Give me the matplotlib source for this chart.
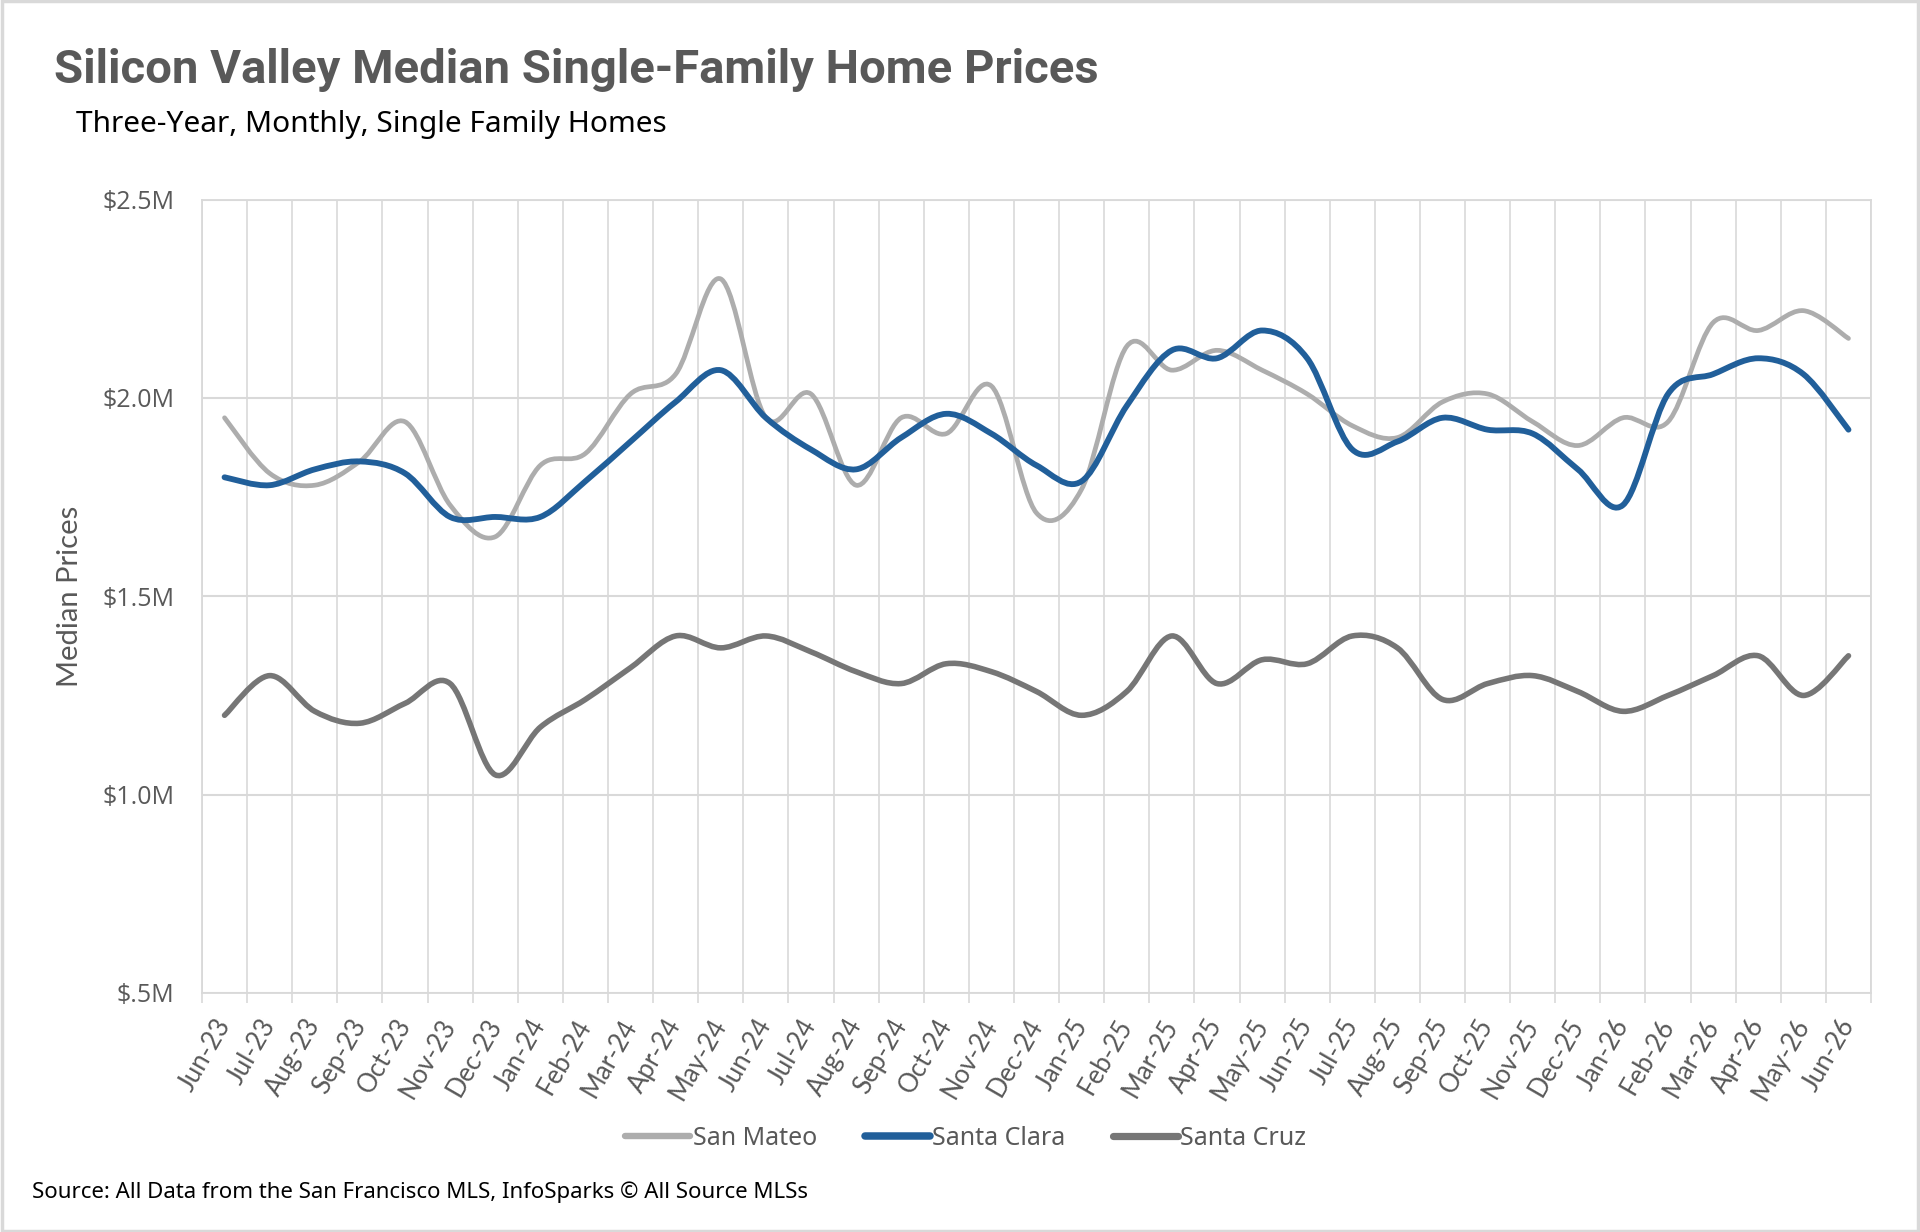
#!/usr/bin/env python3
"""
Silicon Valley median single-family home prices, smoothed monthly lines
"""

import numpy as np
import matplotlib
matplotlib.use("Agg")
import matplotlib.pyplot as plt
from matplotlib.path import Path
from matplotlib.patches import PathPatch, Rectangle
from matplotlib.lines import Line2D

# Data (median prices in $M)
months = ["Jun-23", "Jul-23", "Aug-23", "Sep-23", "Oct-23", "Nov-23", "Dec-23",
          "Jan-24", "Feb-24", "Mar-24", "Apr-24", "May-24", "Jun-24", "Jul-24",
          "Aug-24", "Sep-24", "Oct-24", "Nov-24", "Dec-24", "Jan-25", "Feb-25",
          "Mar-25", "Apr-25", "May-25", "Jun-25", "Jul-25", "Aug-25", "Sep-25",
          "Oct-25", "Nov-25", "Dec-25", "Jan-26", "Feb-26", "Mar-26", "Apr-26",
          "May-26", "Jun-26"]

san_mateo = [1.95, 1.81, 1.78, 1.84, 1.94, 1.73, 1.65, 1.83, 1.86, 2.01, 2.06, 2.30, 1.95,
             2.01, 1.78, 1.95, 1.91, 2.03, 1.71, 1.77, 2.13, 2.07, 2.12, 2.07, 2.01,
             1.93, 1.90, 1.99, 2.01, 1.94, 1.88, 1.95, 1.94, 2.19, 2.17, 2.22, 2.15]
santa_clara = [1.80, 1.78, 1.82, 1.84, 1.81, 1.70, 1.70, 1.70, 1.79, 1.89, 1.99, 2.07, 1.95,
               1.87, 1.82, 1.90, 1.96, 1.91, 1.83, 1.79, 1.98, 2.12, 2.10, 2.17, 2.10,
               1.87, 1.89, 1.95, 1.92, 1.91, 1.82, 1.73, 2.01, 2.06, 2.10, 2.06, 1.92]
santa_cruz = [1.20, 1.30, 1.21, 1.18, 1.23, 1.28, 1.05, 1.17, 1.24, 1.32, 1.40, 1.37, 1.40,
              1.36, 1.31, 1.28, 1.33, 1.31, 1.26, 1.20, 1.26, 1.40, 1.28, 1.34, 1.33,
              1.40, 1.37, 1.24, 1.28, 1.30, 1.26, 1.21, 1.25, 1.30, 1.35, 1.25, 1.35]

series_names = ["San Mateo", "Santa Clara", "Santa Cruz"]
y_ticks = [0.5, 1.0, 1.5, 2.0, 2.5]
y_tick_labels = ["$.5M", "$1.0M", "$1.5M", "$2.0M", "$2.5M"]

GRID = "#D9D9D9"
TEXT_GRAY = "#595959"


def smooth_path(x, y):
    """Excel-style smoothed line: cubic Bezier segments through every point"""
    pts = np.column_stack([x, y]).astype(float)
    n = len(pts)
    verts = [pts[0]]
    codes = [Path.MOVETO]
    for i in range(n - 1):
        p_prev = pts[i - 1] if i > 0 else pts[i]
        p_next2 = pts[i + 2] if i + 2 < n else pts[i + 1]
        c1 = pts[i] + (pts[i + 1] - p_prev) / 6.0
        c2 = pts[i + 1] - (p_next2 - pts[i]) / 6.0
        verts += [c1, c2, pts[i + 1]]
        codes += [Path.CURVE4] * 3
    return Path(verts, codes)


def main():
    fig = plt.figure(figsize=(19.2, 12.32), dpi=100)
    ax = fig.add_axes([0.1052, 0.194, 0.8693, 0.644])

    x = np.arange(len(months))
    series = [san_mateo, santa_clara, santa_cruz]
    colors = ["#ADADAD", "#215F9A", "#767676"]
    widths = [3.4, 4.2, 4.0]

    handles = []
    for vals, col, lw, name in zip(series, colors, widths, series_names):
        patch = PathPatch(smooth_path(x, vals), facecolor="none", edgecolor=col,
                          lw=lw, capstyle="round", joinstyle="round", zorder=3)
        ax.add_patch(patch)
        handles.append(Line2D([], [], color=col, lw=lw + 1.2, solid_capstyle="round", label=name))

    ax.set_xlim(-0.5, len(months) - 0.5)
    ax.set_ylim(0.5, 2.5)

    # gridlines at category boundaries, labels at category centres
    ax.set_xticks(x)
    ax.set_xticklabels(months, rotation=60, ha="right", va="center",
                       rotation_mode="anchor", fontsize=18.5, color=TEXT_GRAY, family="Lato")
    ax.tick_params(axis="x", which="major", length=0, pad=20)
    ax.set_xticks(np.arange(-0.5, len(months)), minor=True)
    ax.tick_params(axis="x", which="minor", length=7, color=GRID, width=1.2)
    ax.grid(True, which="minor", axis="x", color=GRID, lw=1.2)

    ax.set_yticks(y_ticks)
    ax.set_yticklabels(y_tick_labels, fontsize=18, color=TEXT_GRAY, family="Open Sans")
    ax.tick_params(axis="y", length=0, pad=20)
    ax.grid(True, which="major", axis="y", color=GRID, lw=1.5)
    ax.set_axisbelow(True)

    for side in ["left", "right", "top", "bottom"]:
        ax.spines[side].set_color(GRID)
        ax.spines[side].set_linewidth(1.3)

    ax.set_ylabel("Median Prices", fontsize=21, color=TEXT_GRAY, family="Lato", labelpad=14)

    # Titles
    fig.text(0.028, 0.9326, "Silicon Valley Median Single-Family Home Prices",
             fontsize=34, fontweight="bold", color=TEXT_GRAY, family="Roboto", va="baseline")
    fig.text(0.0395, 0.8929, "Three-Year, Monthly, Single Family Homes",
             fontsize=21.5, color="black", family="Noto Sans", va="baseline")

    fig.legend(handles=handles, loc="center", bbox_to_anchor=(0.503, 0.076), ncol=3,
               frameon=False, prop={"family": "Noto Sans", "size": 18},
               labelcolor=TEXT_GRAY, handlelength=2.6, handletextpad=0.1, columnspacing=1.9)

    fig.text(0.0167, 0.0279, "Source: All Data from the San Francisco MLS, InfoSparks \u00a9 All Source MLSs",
             fontsize=16, color="black", family="Noto Sans", va="baseline")

    # light frame around the whole chart
    fig.patches.append(Rectangle((0.001, 0.001), 0.998, 0.998, transform=fig.transFigure,
                                 fill=False, edgecolor=GRID, lw=2.5))

    fig.savefig("out.png", dpi=100)
    plt.close(fig)


if __name__ == "__main__":
    main()
